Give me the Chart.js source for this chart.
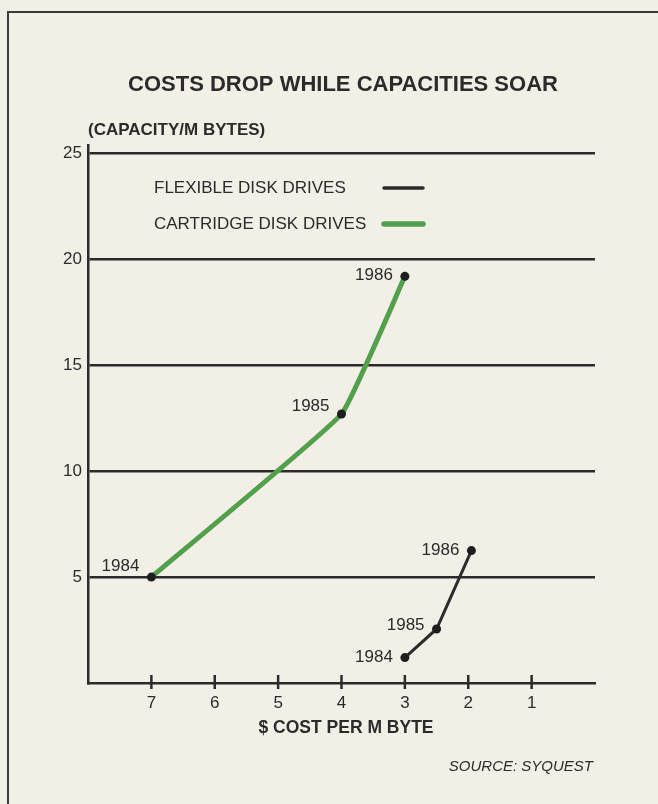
<!DOCTYPE html>
<html>
<head>
<meta charset="utf-8">
<script src="https://cdn.jsdelivr.net/npm/chart.js@4.4.1/dist/chart.umd.min.js"></script>
<style>
  body { margin: 0; background: #f2efe7; }
  #frame { position: absolute; left: 7px; top: 11px; width: 700px; height: 900px; border: 2.5px solid #3a3a3a; box-sizing: border-box; }
  #myChart { position: absolute; left: 0; top: 0; }
</style>
</head>
<body>
<div id="frame"></div>
<canvas id="myChart" width="658" height="804"></canvas>
<script>
// data
var years = ['1984', '1985', '1986'];
var flexibleCost = [3, 2.5, 1.95];
var flexibleCapacity = [1.2, 2.55, 6.25];
var cartridgeCost = [7, 4, 3];
var cartridgeCapacity = [5, 12.7, 19.2];
var xTickValues = [7, 6, 5, 4, 3, 2, 1];
var yTickValues = [5, 10, 15, 20, 25];

var ink = '#2b2b2b';
var green = '#52a04b';
var fontFamily = '"Liberation Sans", Arial, Helvetica, sans-serif';

// vertical nudge of the year labels, per series
var labelNudge = [[0, -4, 0], [-11, -8, -1]];
var legendY = [188, 224];

function toPoints(xs, ys) {
    return xs.map(function (x, i) { return { x: x, y: ys[i] }; });
}

function drawText(ctx, str, x, y, font, align) {
    ctx.font = font;
    ctx.textAlign = align;
    ctx.textBaseline = 'middle';
    ctx.fillText(str, x, y);
}

var decor = {
    id: 'decor',
    afterDraw: function (chart) {
        var ctx = chart.ctx;
        var area = chart.chartArea;
        var xScale = chart.scales.x;
        ctx.save();
        ctx.fillStyle = ink;
        ctx.strokeStyle = ink;

        // tick marks crossing the x axis
        ctx.lineWidth = 2.5;
        xTickValues.forEach(function (v) {
            var px = xScale.getPixelForValue(v);
            ctx.beginPath();
            ctx.moveTo(px, area.bottom - 8);
            ctx.lineTo(px, area.bottom + 6);
            ctx.stroke();
        });

        drawText(ctx, 'COSTS DROP WHILE CAPACITIES SOAR', 343, 85, 'bold 22px ' + fontFamily, 'center');
        drawText(ctx, '(CAPACITY/M BYTES)', 88, 130, 'bold 17px ' + fontFamily, 'left');
        drawText(ctx, '$ COST PER M BYTE', 346, 728, 'bold 17.5px ' + fontFamily, 'center');
        drawText(ctx, 'SOURCE: SYQUEST', 593, 767, 'italic 15px ' + fontFamily, 'right');

        // legend, text first and line sample after it
        chart.data.datasets.forEach(function (ds, i) {
            ctx.fillStyle = ink;
            drawText(ctx, ds.label, 154, legendY[i], '17px ' + fontFamily, 'left');
            ctx.strokeStyle = ds.borderColor;
            ctx.lineWidth = ds.borderWidth + 0.5;
            ctx.lineCap = 'round';
            ctx.beginPath();
            ctx.moveTo(384, legendY[i]);
            ctx.lineTo(423, legendY[i]);
            ctx.stroke();
        });

        // year labels next to the points
        ctx.fillStyle = ink;
        chart.data.datasets.forEach(function (ds, i) {
            var meta = chart.getDatasetMeta(i);
            meta.data.forEach(function (pt, j) {
                drawText(ctx, years[j], pt.x - 12, pt.y + labelNudge[i][j], '17px ' + fontFamily, 'right');
            });
        });
        ctx.restore();
    }
};

var ctx = document.getElementById('myChart').getContext('2d');
var myChart = new Chart(ctx, {
    type: 'line',
    data: {
        datasets: [{
            label: 'FLEXIBLE DISK DRIVES',
            data: toPoints(flexibleCost, flexibleCapacity),
            borderColor: ink,
            borderWidth: 3,
            tension: 0,
            pointRadius: 4.5,
            pointBackgroundColor: '#1e1e1e',
            pointBorderWidth: 0
        }, {
            label: 'CARTRIDGE DISK DRIVES',
            data: toPoints(cartridgeCost, cartridgeCapacity),
            borderColor: green,
            borderWidth: 5,
            tension: 0.1,
            borderJoinStyle: 'round',
            pointRadius: 4.5,
            pointBackgroundColor: '#1e1e1e',
            pointBorderWidth: 0
        }]
    },
    options: {
        responsive: false,
        animation: false,
        layout: { padding: { top: 145, left: 0, right: 63, bottom: 81 } },
        plugins: {
            legend: { display: false },
            tooltip: { enabled: false }
        },
        scales: {
            x: {
                type: 'linear',
                min: 0,
                max: 8,
                reverse: true,
                afterBuildTicks: function (scale) {
                    scale.ticks = xTickValues.map(function (v) { return { value: v }; });
                },
                afterFit: function (scale) { scale.height = 40; },
                grid: { drawOnChartArea: false, drawTicks: false },
                border: { color: ink, width: 2.5 },
                ticks: { color: ink, padding: 10, font: { family: fontFamily, size: 17 } }
            },
            y: {
                type: 'linear',
                min: 0,
                max: 25.4,
                afterBuildTicks: function (scale) {
                    scale.ticks = yTickValues.map(function (v) { return { value: v }; });
                },
                afterFit: function (scale) { scale.width = 88; },
                grid: { color: ink, lineWidth: 2.5, drawTicks: false },
                border: { color: ink, width: 2.5 },
                ticks: { color: ink, padding: 6, font: { family: fontFamily, size: 17 } }
            }
        }
    },
    plugins: [decor]
});
</script>
</body>
</html>
